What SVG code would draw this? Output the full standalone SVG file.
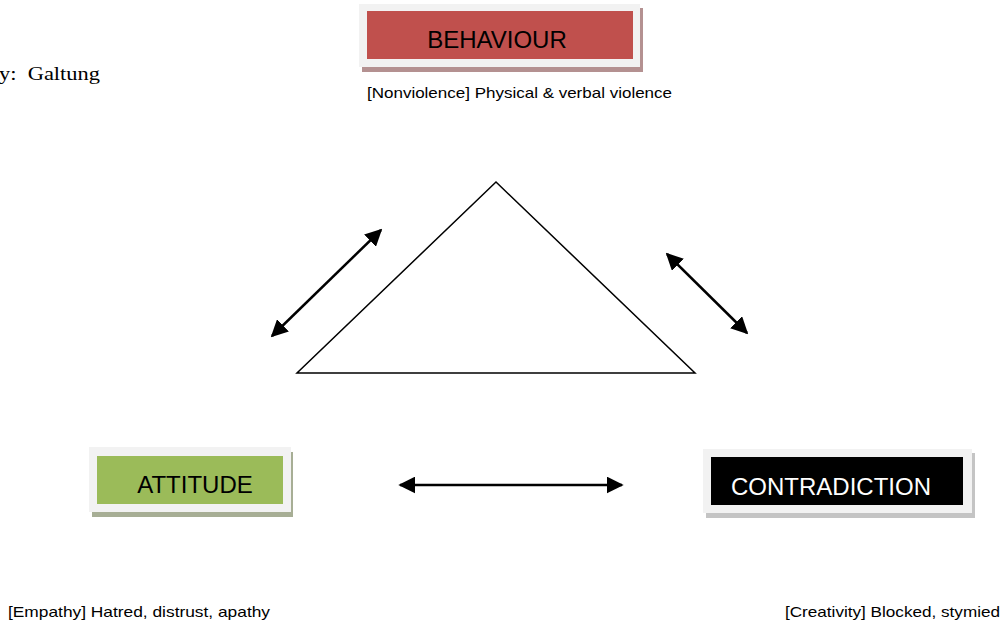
<svg xmlns="http://www.w3.org/2000/svg" width="1005" height="623" viewBox="0 0 1005 623">
<defs>
<style>
.frame{fill:#f2f2f2}
.lbl{font-family:"Liberation Sans",Arial,sans-serif;font-size:24px;fill:#000}
.sub{font-family:"Liberation Sans",Arial,sans-serif;font-size:14.5px;fill:#000}
.conn{stroke:#000;stroke-width:2.5;fill:none}
</style>
<marker id="ah" viewBox="0 0 10 10" refX="9" refY="5" markerWidth="6.8" markerHeight="6.8" markerUnits="strokeWidth" orient="auto-start-reverse">
<path d="M0,0 L10,5 L0,10 Z" fill="#000"/>
</marker>
</defs>
<rect width="1005" height="623" fill="#fff"/>
<text x="-1" y="80" font-family="Liberation Serif,'Times New Roman',serif" font-size="19" fill="#000" xml:space="preserve" textLength="101" lengthAdjust="spacingAndGlyphs">y:  Galtung</text>
<g id="triangle">
<polygon points="496,182 297,373 695,373" fill="none" stroke="#000" stroke-width="1.5"/>
</g>
<g id="behaviour">
<rect x="362" y="8" width="281" height="64" fill="#b49191"/>
<rect class="frame" x="359" y="4" width="281" height="63"/>
<rect x="367" y="11" width="266" height="48" fill="#c0504d"/>
<text class="lbl" x="497" y="48" text-anchor="middle">BEHAVIOUR</text>
<text class="sub" x="367" y="98" textLength="305" lengthAdjust="spacingAndGlyphs">[Nonviolence] Physical &amp; verbal violence</text>
</g>
<g id="attitude">
<rect x="92" y="452" width="201" height="65" fill="#a7ae95"/>
<rect class="frame" x="89" y="447" width="202" height="65"/>
<rect x="97" y="456" width="186" height="48" fill="#9bbb59"/>
<text class="lbl" x="195" y="493" text-anchor="middle">ATTITUDE</text>
<text class="sub" x="8" y="617" textLength="262" lengthAdjust="spacingAndGlyphs">[Empathy] Hatred, distrust, apathy</text>
</g>
<g id="contradiction">
<rect x="706" y="453" width="269" height="65" fill="#c4c4c4"/>
<rect class="frame" x="703" y="449" width="269" height="64"/>
<rect x="711" y="457" width="252" height="48" fill="#000"/>
<text class="lbl" x="731" y="495" style="fill:#fff" textLength="200" lengthAdjust="spacingAndGlyphs">CONTRADICTION</text>
<text class="sub" x="785" y="617" textLength="215" lengthAdjust="spacingAndGlyphs">[Creativity] Blocked, stymied</text>
</g>
<g id="connectors">
<line class="conn" x1="272" y1="336" x2="381" y2="230" marker-start="url(#ah)" marker-end="url(#ah)"/>
<line class="conn" x1="667" y1="254" x2="747" y2="333" marker-start="url(#ah)" marker-end="url(#ah)"/>
<line class="conn" x1="400" y1="485" x2="622" y2="485" marker-start="url(#ah)" marker-end="url(#ah)"/>
</g>
</svg>
